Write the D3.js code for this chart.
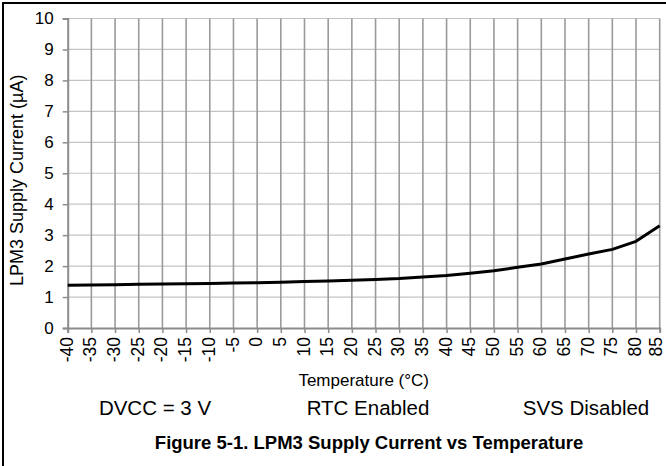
<!DOCTYPE html>
<html>
<head>
<meta charset="utf-8">
<script src="https://cdn.jsdelivr.net/npm/d3@7"></script>
<style>
  body { margin: 0; background: #fff; }
  svg { display: block; font-family: "Liberation Sans", Arial, sans-serif; }
</style>
</head>
<body>
<div class="container"></div>
<script>
// chart size
var width  = 666;
var height = 466;

// data
var temps   = [-40, -35, -30, -25, -20, -15, -10, -5, 0, 5, 10, 15, 20, 25, 30, 35, 40, 45, 50, 55, 60, 65, 70, 75, 80, 85];
var current = [1.38, 1.39, 1.40, 1.41, 1.42, 1.43, 1.44, 1.45, 1.46, 1.48, 1.50, 1.52, 1.54, 1.57, 1.60, 1.65, 1.70, 1.77, 1.85, 1.96, 2.07, 2.23, 2.39, 2.54, 2.80, 3.30];
var yTicks  = [0, 1, 2, 3, 4, 5, 6, 7, 8, 9, 10];
var notes   = ["DVCC = 3 V", "RTC Enabled", "SVS Disabled"];
var noteX   = [155, 368, 586];

var svg = d3.select(".container").append("svg")
  .attr("width", width)
  .attr("height", height);

// outer frame (runs off the right / bottom edge)
svg.append("rect")
  .attr("x", 3).attr("y", 3)
  .attr("width", 680).attr("height", 480)
  .attr("fill", "none")
  .attr("stroke", "#000")
  .attr("stroke-width", 2);

var x = d3.scaleLinear().domain([-40, 85]).range([67.7, 659.7]);
var y = d3.scaleLinear().domain([0, 10]).range([328, 18.5]);

// horizontal grid
svg.append("g").selectAll("line")
  .data(yTicks.filter(d => d > 0))
  .enter().append("line")
  .attr("x1", x(-40)).attr("x2", x(85))
  .attr("y1", d => y(d)).attr("y2", d => y(d))
  .attr("stroke", "#c4c4c4")
  .attr("stroke-width", 1.2);

// vertical grid
svg.append("g").selectAll("line")
  .data(temps.filter(d => d > -40))
  .enter().append("line")
  .attr("x1", d => x(d)).attr("x2", d => x(d))
  .attr("y1", y(10)).attr("y2", y(0))
  .attr("stroke", "#9a9a9a")
  .attr("stroke-width", 1.6);

// y axis
var yAxis = d3.axisLeft(y).tickValues(yTicks).tickSize(5).tickPadding(9).tickFormat(d => String(d));
var gy = svg.append("g").attr("transform", "translate(" + x(-40) + ",0)").call(yAxis);
gy.select(".domain").attr("stroke", "#8c8c8c").attr("stroke-width", 2);
gy.selectAll(".tick line").attr("stroke", "#8c8c8c").attr("stroke-width", 1.5);
gy.selectAll("text").attr("font-size", 17).attr("fill", "#000")
  .attr("font-family", "Liberation Sans, Arial, sans-serif");

// x axis - plain hyphen for negatives, like the figure
var xAxis = d3.axisBottom(x).tickValues(temps).tickSize(5).tickFormat(d => String(d));
var gx = svg.append("g").attr("transform", "translate(0," + y(0) + ")").call(xAxis);
gx.select(".domain").attr("stroke", "#8c8c8c").attr("stroke-width", 2);
gx.selectAll(".tick line").attr("stroke", "#8c8c8c").attr("stroke-width", 1.5);
gx.selectAll("text")
  .attr("font-size", 17.5).attr("fill", "#000")
  .attr("font-family", "Liberation Sans, Arial, sans-serif")
  .attr("transform", "rotate(-90)")
  .attr("text-anchor", "end")
  .attr("x", -9).attr("y", 0)
  // last label sits against the right edge, pull it in a little
  .attr("dy", (d, i) => i == temps.length - 1 ? "0.1em" : "0.26em");

// curve
var line = d3.line()
  .x((d, i) => x(temps[i]))
  .y(d => y(d));

svg.append("path")
  .datum(current)
  .attr("d", line)
  .attr("fill", "none")
  .attr("stroke", "#000")
  .attr("stroke-width", 3)
  .attr("stroke-linejoin", "round");

// axis titles
svg.append("text")
  .attr("transform", "translate(23," + ((y(0) + y(10)) / 2 + 7) + ") rotate(-90)")
  .attr("text-anchor", "middle")
  .attr("font-size", 18)
  .text("LPM3 Supply Current (\u00b5A)");

svg.append("text")
  .attr("x", (x(-40) + x(85)) / 2).attr("y", 386)
  .attr("text-anchor", "middle")
  .attr("font-size", 17)
  .text("Temperature (\u00b0C)");

// condition notes
svg.append("g").selectAll("text")
  .data(notes)
  .enter().append("text")
  .attr("x", (d, i) => noteX[i])
  .attr("y", 415)
  .attr("text-anchor", "middle")
  .attr("font-size", 20.5)
  .text(d => d);

// figure caption
svg.append("text")
  .attr("x", 369).attr("y", 449)
  .attr("text-anchor", "middle")
  .attr("font-size", 18.5)
  .attr("font-weight", "bold")
  .text("Figure 5-1. LPM3 Supply Current vs Temperature");
</script>
</body>
</html>
